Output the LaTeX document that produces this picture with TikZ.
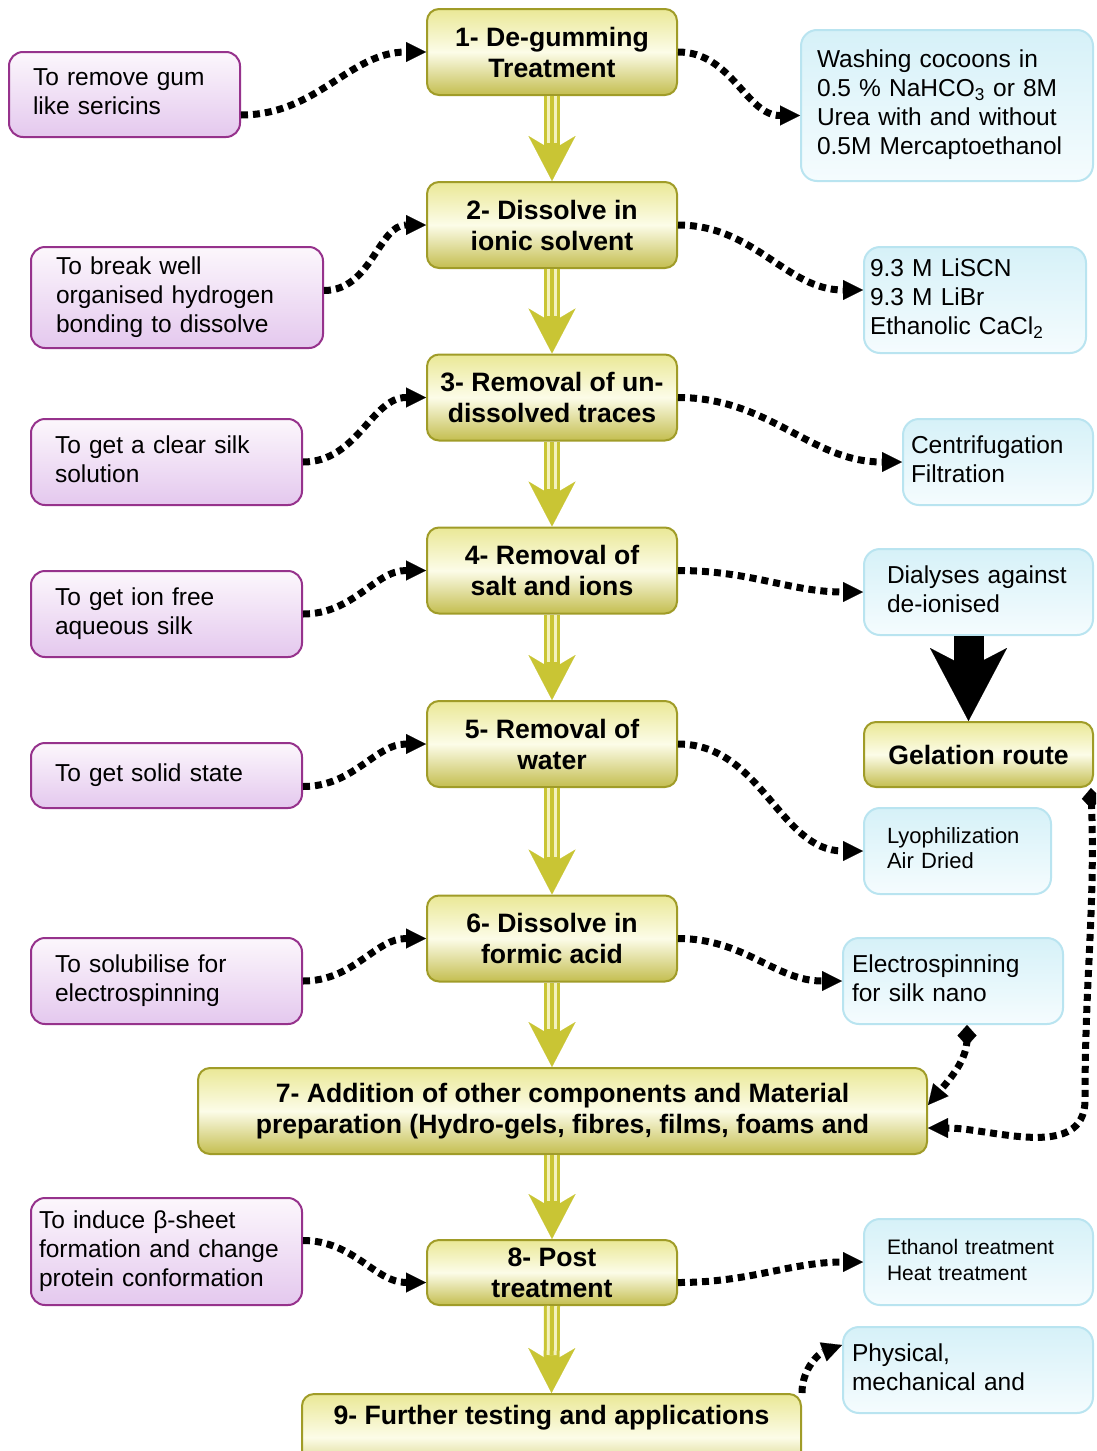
\documentclass[tikz,border=0pt]{standalone}
\usepackage{fontspec}
\setmainfont{Liberation Sans}
\usetikzlibrary{arrows.meta,shapes.geometric}
\definecolor{ylw}{RGB}{201,197,52}
\definecolor{ylwlight}{RGB}{243,241,190}
\definecolor{mainborder}{RGB}{160,156,40}
\definecolor{maintop}{RGB}{234,232,150}
\definecolor{mainmid}{RGB}{252,252,232}
\definecolor{mainbot}{RGB}{196,190,80}
\definecolor{purpborder}{RGB}{150,50,140}
\definecolor{ptop}{RGB}{252,247,252}
\definecolor{pbot}{RGB}{228,200,238}
\definecolor{bborder}{RGB}{185,228,240}
\definecolor{btop}{RGB}{214,241,248}
\definecolor{bbot}{RGB}{245,252,254}
\newcommand{\lns}[1]{\begin{tabular}{@{}l@{}}#1\end{tabular}}
\tikzset{
  mainbox/.style={draw=mainborder, line width=2pt, rounded corners=12pt,
    top color=maintop, bottom color=mainbot, middle color=mainmid,
    font=\fontsize{26.6}{31}\selectfont\bfseries, align=center, inner sep=0pt,
    minimum width=250pt, minimum height=86pt},
  lbox/.style={draw=purpborder, line width=2pt, rounded corners=14pt,
    top color=ptop, bottom color=pbot, font=\fontsize{24.5}{29}\selectfont,
    align=left, inner ysep=0pt},
  rbox/.style={draw=bborder, line width=2pt, rounded corners=16pt,
    top color=btop, bottom color=bbot, font=\fontsize{24.5}{29}\selectfont,
    align=left, inner ysep=0pt},
  yarrow/.style={draw=ylw, line width=16pt,
    -{Stealth[length=45pt,width=47pt,inset=14pt,line width=0.1pt]},
    postaction={draw=ylwlight, line width=10pt, arrows=-, shorten >=38pt},
    postaction={draw=ylw, line width=4pt, arrows=-, shorten >=38pt}},
  dots/.style={draw=black, line width=7pt, dash pattern=on 7pt off 5pt,
    -{Triangle[length=20pt,width=20pt,line width=0.1pt]}},
  dstart/.style={draw=black, line width=7pt, dash pattern=on 7pt off 5pt,
    {Diamond[length=21pt,width=19pt,line width=0.1pt]}-{Triangle[length=20pt,width=20pt,line width=0.1pt]}},
  bigarr/.style={draw=black, line width=30pt,
    -{Stealth[length=73pt,width=77pt,inset=20pt,line width=0.1pt]}}
}
\begin{document}
\begin{tikzpicture}[x=1pt,y=1pt]
\useasboundingbox (0,0) rectangle (1096,-1451);
\clip (0,0) rectangle (1096,-1451);
\fill[white] (0,0) rectangle (1096,-1451);

% main boxes
\node[mainbox] (n1) at (552,-52) {1- De-gumming\\Treatment};
\node[mainbox] (n2) at (552,-225) {2- Dissolve in\\ionic solvent};
\node[mainbox] (n3) at (552,-397.5) {3- Removal of un-\\dissolved traces};
\node[mainbox] (n4) at (552,-570.5) {4- Removal of\\salt and ions};
\node[mainbox] (n5) at (552,-744) {5- Removal of\\water};
\node[mainbox] (n6) at (552,-938.5) {6- Dissolve in\\formic acid};
\node[mainbox, minimum width=729pt] (n7) at (562.5,-1111) {7- Addition of other components and Material\\preparation (Hydro-gels, fibres, films, foams and};
\node[mainbox, minimum height=65pt] (n8) at (552,-1272.5) {8- Post\\treatment};
\node[mainbox, minimum width=499pt, minimum height=0pt, text height=30pt, text depth=57pt, anchor=north] (n9) at (551.5,-1393) {9- Further testing and applications};
\node[mainbox, minimum width=229pt, minimum height=65pt] (gel) at (978.5,-754.5) {Gelation route};

% left boxes
\node[lbox, minimum width=231pt, minimum height=85pt, inner xsep=24pt, text width=183pt] (L1) at (124.5,-94.5) {\lns{To remove gum\\like sericins}};
\node[lbox, minimum width=292pt, minimum height=101pt, inner xsep=25pt, text width=242pt] (L2) at (177,-297.5) {\lns{To break well\\organised hydrogen\\bonding to dissolve}};
\node[lbox, minimum width=271pt, minimum height=86pt, inner xsep=24pt, text width=223pt] (L3) at (166.5,-462) {\lns{To get a clear silk\\solution}};
\node[lbox, minimum width=271pt, minimum height=86pt, inner xsep=24pt, text width=223pt] (L4) at (166.5,-614) {\lns{To get ion free\\aqueous silk}};
\node[lbox, minimum width=271pt, minimum height=65pt, inner xsep=24pt, text width=223pt] (L5) at (166.5,-775.5) {\lns{To get solid state}};
\node[lbox, minimum width=271pt, minimum height=86pt, inner xsep=24pt, text width=223pt] (L6) at (166.5,-981) {\lns{To solubilise for\\electrospinning}};
\node[lbox, minimum width=271pt, minimum height=107pt, inner xsep=8pt, text width=255pt] (L8) at (166.5,-1251.5) {\lns{To induce β-sheet\\formation and change\\protein conformation}};

% right boxes
\node[rbox, minimum width=292pt, minimum height=151pt, inner xsep=16pt, text width=260pt] (R1) at (947,-105.5) {\lns{Washing cocoons in\\0.5 \% NaHCO\textsubscript{3} or 8M\\Urea with and without\\0.5M Mercaptoethanol}};
\node[rbox, minimum width=222pt, minimum height=106pt, inner xsep=6pt, text width=210pt] (R2) at (975,-300) {\lns{9.3 M LiSCN\\9.3 M LiBr\\Ethanolic CaCl\textsubscript{2}}};
\node[rbox, minimum width=190pt, minimum height=86pt, inner xsep=8pt, text width=174pt] (R3) at (998,-462) {\lns{Centrifugation\\Filtration}};
\node[rbox, minimum width=229pt, minimum height=86pt, inner xsep=23pt, text width=183pt] (R4) at (978.5,-592) {\lns{Dialyses against\\de-ionised}};
\node[rbox, minimum width=187pt, minimum height=86pt, inner xsep=23pt, text width=141pt, font=\fontsize{22}{25}\selectfont] (R5) at (957.5,-851) {\lns{Lyophilization\\Air Dried}};
\node[rbox, minimum width=220pt, minimum height=86pt, inner xsep=9pt, text width=202pt] (R6) at (953,-981) {\lns{Electrospinning\\for silk nano}};
\node[rbox, minimum width=229pt, minimum height=86pt, inner xsep=23pt, text width=183pt, font=\fontsize{21}{26}\selectfont] (R8) at (978.5,-1262) {\lns{Ethanol treatment\\Heat treatment}};
\node[rbox, minimum width=250pt, minimum height=86pt, inner xsep=9pt, text width=232pt] (R9) at (968,-1370) {\lns{Physical,\\mechanical and}};

% yellow flow arrows
\draw[yarrow] (n1.south) -- (n2.north);
\draw[yarrow] (n2.south) -- (n3.north);
\draw[yarrow] (n3.south) -- (n4.north);
\draw[yarrow] (n4.south) -- (n5.north);
\draw[yarrow] (n5.south) -- (n6.north);
\draw[yarrow] (n6.south) -- (n6.south |- n7.north);
\draw[yarrow] (n8.north |- n7.south) -- (n8.north);
\draw[yarrow] (n8.south) -- (n9.north);

% left dotted connectors
\draw[dots] ([yshift=-20.5pt]L1.east) to[out=0,in=180] (n1.west);
\draw[dots] ([yshift=7pt]L2.east) to[out=0,in=180] (n2.west);
\draw[dots] (L3.east) to[out=0,in=180] (n3.west);
\draw[dots] (L4.east) to[out=0,in=180] (n4.west);
\draw[dots] ([yshift=-11pt]L5.east) to[out=0,in=180] (n5.west);
\draw[dots] (L6.east) to[out=0,in=180] (n6.west);
\draw[dots] ([yshift=11pt]L8.east) to[out=0,in=180] ([yshift=-10pt]n8.west);

% right dotted connectors
\draw[dots] (n1.east) to[out=0,in=180] ([yshift=-10pt]R1.west);
\draw[dots] (n2.east) to[out=0,in=180] ([yshift=10pt]R2.west);
\draw[dots] (n3.east) to[out=0,in=180] (R3.west);
\draw[dots] (n4.east) to[out=0,in=180] (R4.west);
\draw[dots] (n5.east) to[out=0,in=180] (R5.west);
\draw[dots] (n6.east) to[out=0,in=180] (R6.west);
\draw[dots] ([yshift=-10pt]n8.east) to[out=0,in=180] (R8.west);
\draw[dots] (n9.north east) to[out=90,in=200] ([yshift=25pt]R9.west);

% gelation route
\draw[bigarr] ([xshift=-10pt]R4.south) -- ([xshift=-10pt]gel.north);
\coordinate (gcorner) at (1085,-1100);
\draw[dstart] ([xshift=-3pt]gel.south east) to[out=-88,in=90] (gcorner) to[out=-90,in=0] ([yshift=-17pt]n7.east);
\draw[dstart] ([xshift=14pt]R6.south) to[out=-90,in=50] ([yshift=6pt]n7.east);
\end{tikzpicture}
\end{document}
